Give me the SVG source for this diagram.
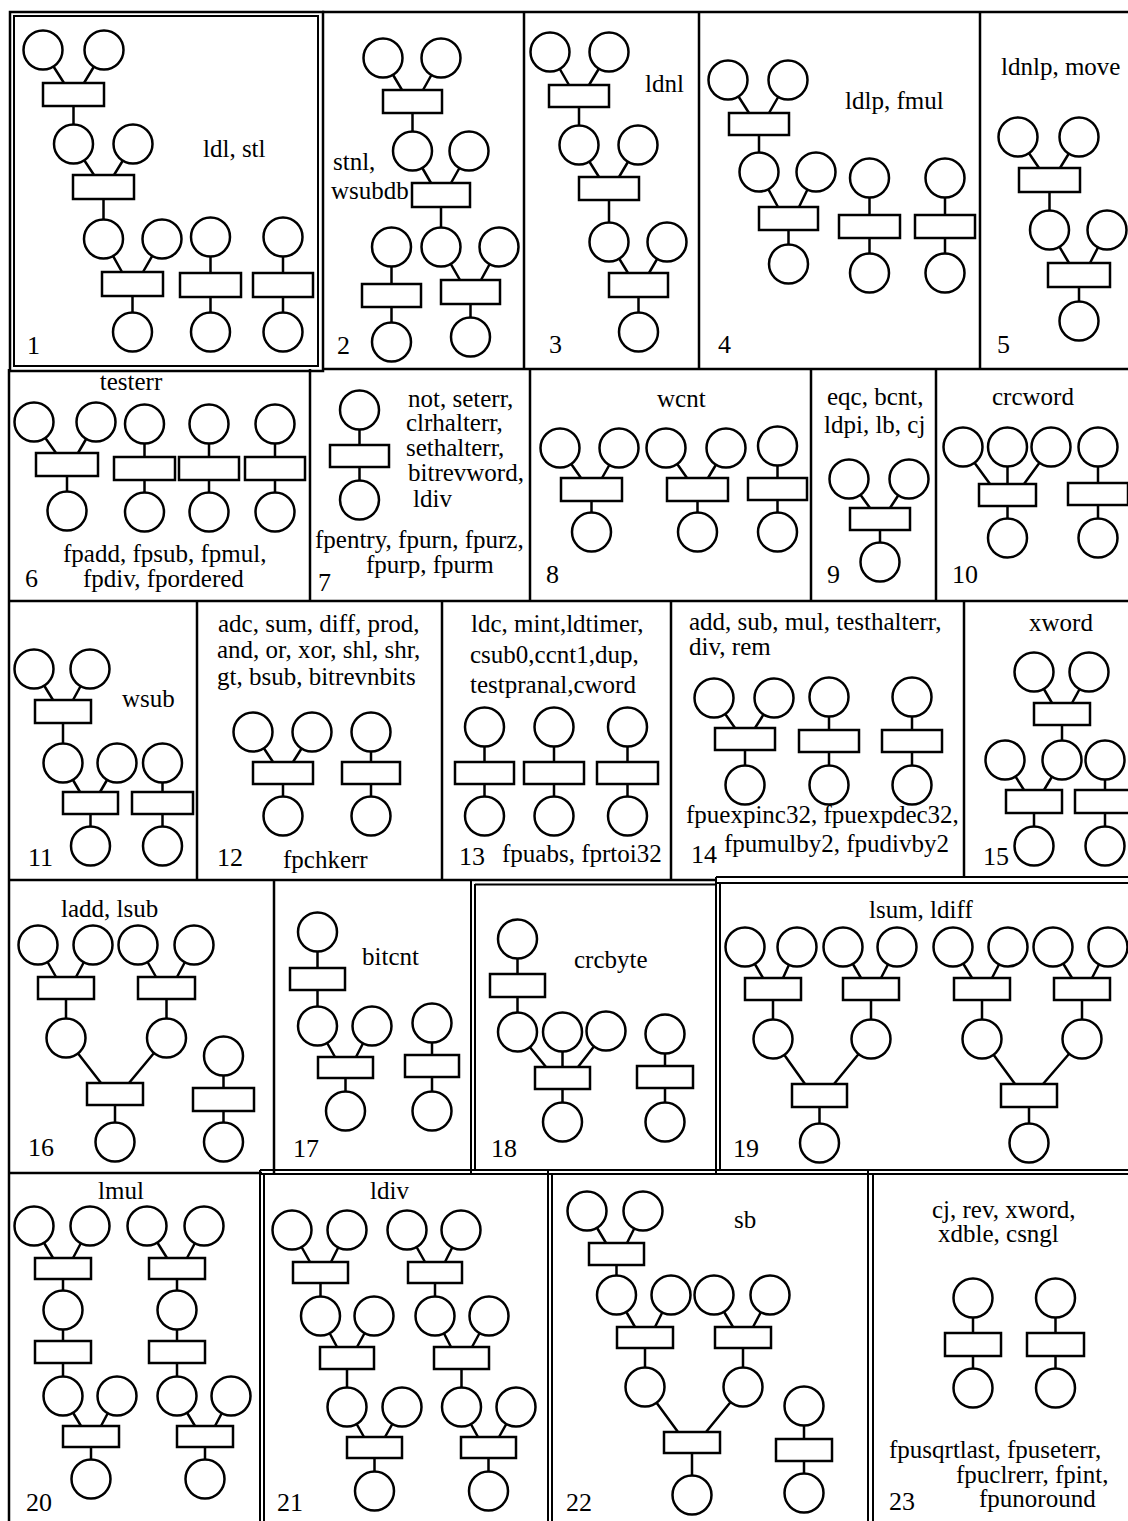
<svg xmlns="http://www.w3.org/2000/svg" width="1128" height="1521" viewBox="0 0 1128 1521">
<style>
.bg{fill:#fff}
.n{fill:#fff;stroke:#000;stroke-width:2.5}
.c{fill:none;stroke:#000;stroke-width:2.5}
.g{fill:none;stroke:#000;stroke-width:2.5}
.d{fill:none;stroke:#000;stroke-width:2}
text{font-family:"Liberation Serif","Times New Roman",serif;font-size:25px;fill:#000}
.num{font-size:26px}
.mid{text-anchor:middle}
</style>
<rect class="bg" x="0" y="0" width="1128" height="1521"/>
<g id="grid">
<rect class="g" x="10" y="12" width="313" height="359"/>
<rect class="d" x="14" y="16" width="304" height="350"/>
<path class="g" d="M322,12H1128 M322,369H1128 M9,369V1521 M9,601H1128 M524,12V369 M699,12V369 M980,12V369 M310,369V601 M530,369V601 M811,369V601 M936,369V601 M197,601V880 M442,601V880 M671,601V880 M964,601V878 M9,880H717 M274,880V1173 M9,1173H262"/>
<path class="d" d="M716,877H1128 M716,883H1128 M471,880V1174 M475,884V1170 M475,884.5H716 M716,877V1174 M720,883V1170 M260,1170H1128 M260,1174H1128 M260,1170V1521 M264,1174V1521 M548,1170V1521 M552,1174V1521 M868,1170V1521 M873,1174V1521"/>
</g>
<g id="connectors" class="c">
<path d="M43,50L64,83 M104,50L84,83 M73.5,106V144 M73.5,144L94,175 M133,144L114,175 M103.5,199V239 M103.5,239L122,272 M162,239L143,272 M132.5,296V332 M210.5,237V332 M283,237V332"/>
<path d="M383,58L402,90 M441,58L423,90 M412.5,113V151 M412.5,151L431,183 M469,151L451,183 M441,207V247 M441,247L460,280 M499,247L481,280 M470.5,304V337 M391.5,247V342"/>
<path d="M550,52L569,85 M609,52L589,85 M579,107V145 M579,145L599,177 M638,145L619,177 M609,200V242 M609,242L628,273 M667,242L649,273 M638.5,297V332"/>
<path d="M728,80L749,113 M788,80L769,113 M759,135V172 M759,172L778,207 M816,172L799,207 M788.5,230V264 M869.5,178V273 M945,178V273"/>
<path d="M1018,137L1039,168 M1079,137L1060,168 M1049.5,192V230 M1049.5,230L1069,263 M1107,230L1090,263 M1079,287V321"/>
<path d="M34,422L56,453 M96,422L78,453 M67,476V511 M144.5,424V512 M209,424V512 M275,424V512"/>
<path d="M359.5,410V500"/>
<path d="M560,448L581,478 M619,448L602,478 M591.5,501V532 M666,448L687,478 M726,448L708,478 M697.5,501V532 M777.5,446V532"/>
<path d="M849,479L870,508 M909,479L890,508 M880,530V562"/>
<path d="M963,447L990,484 M1007.5,447V538 M1051,447L1024,484 M1098,447V538"/>
<path d="M34,669L53,700 M90,669L73,700 M63,723V763 M63,763L80,792 M117,763L100,792 M90.5,814V846 M162.5,763V846"/>
<path d="M253,732L273,762 M312,732L293,762 M283,784V816 M371,732V816"/>
<path d="M484.5,727V816 M554,727V816 M627.5,727V816"/>
<path d="M714,698L735,728 M774,698L755,728 M745,750V785 M829,697V785 M912,697V785"/>
<path d="M1034,672L1052,703 M1089,672L1072,703 M1062,725V760 M1005,760L1024,790 M1062,760L1044,790 M1034,813V846 M1105,760V846"/>
<path d="M38,945L56,977 M93,945L76,977 M66,999V1038 M138,945L156,977 M194,945L177,977 M166.5,999V1038 M66,1038L101,1083 M166.5,1038L129,1083 M115,1105V1142 M223.5,1056V1142"/>
<path d="M317.5,932V1026 M317.5,1026L335,1057 M372,1026L356,1057 M345.5,1078V1111 M432,1023V1111"/>
<path d="M517.5,939V1032 M517.5,1032L546,1067 M562.5,1032V1122 M606,1031L578,1067 M665,1034V1122"/>
<path d="M745,947L763,978 M797,947L783,978 M773,1000V1039 M843,947L861,978 M897,947L881,978 M871,1000V1039 M773,1039L805,1084 M871,1039L834,1084 M819.5,1107V1143 M953,947L972,978 M1008,947L992,978 M982,1000V1039 M1053,947L1072,978 M1108,947L1092,978 M1082,1000V1039 M982,1039L1015,1084 M1082,1039L1043,1084 M1029,1107V1143"/>
<path d="M34,1226L53,1258 M90,1226L73,1258 M63,1279V1396 M147,1226L167,1258 M204,1226L187,1258 M177,1279V1396 M63,1396L81,1426 M117,1396L101,1426 M91,1447V1479 M177,1396L195,1426 M231,1396L215,1426 M205,1447V1479"/>
<path d="M292,1230L310,1262 M347,1230L331,1262 M320.5,1283V1316 M407,1230L425,1262 M461,1230L445,1262 M435,1283V1316 M320.5,1316L337,1347 M374,1316L357,1347 M347,1369V1407 M435,1316L451,1347 M489,1316L472,1347 M461.5,1369V1407 M347,1407L364,1437 M402,1407L385,1437 M374.5,1458V1491 M461.5,1407L478,1437 M516,1407L499,1437 M488.5,1458V1491"/>
<path d="M587,1211L606,1243 M643,1211L627,1243 M616.5,1265V1295 M616.5,1295L635,1327 M671,1295L655,1327 M645,1348V1387 M714,1295L733,1327 M770,1295L753,1327 M743,1348V1387 M645,1387L678,1432 M743,1387L706,1432 M692,1453V1495 M804,1406V1493"/>
<path d="M973,1298V1388 M1055.5,1298V1388"/>
</g>
<g id="panel1">
<circle id="p1a" class="n" cx="43" cy="50" r="19.5"/><circle id="p1b" class="n" cx="104" cy="50" r="19.5"/>
<rect id="p1r1" class="n" x="43" y="83" width="61" height="23"/>
<circle id="p1c" class="n" cx="73.5" cy="144" r="19.5"/><circle id="p1d" class="n" cx="133" cy="144" r="19.5"/>
<rect id="p1r2" class="n" x="73" y="175" width="61" height="24"/>
<circle id="p1e" class="n" cx="103.5" cy="239" r="19.5"/><circle id="p1f" class="n" cx="162" cy="239" r="19.5"/>
<rect id="p1r3" class="n" x="102" y="272" width="61" height="24"/>
<circle id="p1g" class="n" cx="132.5" cy="332" r="19.5"/>
<circle id="p1h" class="n" cx="210.5" cy="237" r="19.5"/><rect id="p1r4" class="n" x="180" y="273" width="61" height="24"/><circle id="p1i" class="n" cx="210.5" cy="332" r="19.5"/>
<circle id="p1j" class="n" cx="283" cy="237" r="19.5"/><rect id="p1r5" class="n" x="253" y="273" width="60" height="24"/><circle id="p1k" class="n" cx="283" cy="332" r="19.5"/>
<text x="203" y="157">ldl, stl</text><text class="num" x="27" y="354">1</text>
</g>
<g id="panel2">
<circle id="p2a" class="n" cx="383" cy="58" r="19.5"/><circle id="p2b" class="n" cx="441" cy="58" r="19.5"/>
<rect id="p2r1" class="n" x="383" y="90" width="59" height="23"/>
<circle id="p2c" class="n" cx="412.5" cy="151" r="19.5"/><circle id="p2d" class="n" cx="469" cy="151" r="19.5"/>
<rect id="p2r2" class="n" x="412" y="183" width="58" height="24"/>
<circle id="p2e" class="n" cx="441" cy="247" r="19.5"/><circle id="p2f" class="n" cx="499" cy="247" r="19.5"/>
<rect id="p2r3" class="n" x="441" y="280" width="59" height="24"/>
<circle id="p2g" class="n" cx="470.5" cy="337" r="19.5"/>
<circle id="p2h" class="n" cx="391.5" cy="247" r="19.5"/><rect id="p2r4" class="n" x="362" y="284" width="59" height="23"/><circle id="p2i" class="n" cx="391.5" cy="342" r="19.5"/>
<text x="333" y="170">stnl,</text><text x="331" y="199">wsubdb</text><text class="num" x="337" y="354">2</text>
</g>
<g id="panel3">
<circle id="p3a" class="n" cx="550" cy="52" r="19.5"/><circle id="p3b" class="n" cx="609" cy="52" r="19.5"/>
<rect id="p3r1" class="n" x="549" y="85" width="60" height="22"/>
<circle id="p3c" class="n" cx="579" cy="145" r="19.5"/><circle id="p3d" class="n" cx="638" cy="145" r="19.5"/>
<rect id="p3r2" class="n" x="579" y="177" width="60" height="23"/>
<circle id="p3e" class="n" cx="609" cy="242" r="19.5"/><circle id="p3f" class="n" cx="667" cy="242" r="19.5"/>
<rect id="p3r3" class="n" x="609" y="273" width="59" height="24"/>
<circle id="p3g" class="n" cx="638.5" cy="332" r="19.5"/>
<text x="645" y="92">ldnl</text><text class="num" x="549" y="353">3</text>
</g>
<g id="panel4">
<circle id="p4a" class="n" cx="728" cy="80" r="19.5"/><circle id="p4b" class="n" cx="788" cy="80" r="19.5"/>
<rect id="p4r1" class="n" x="729" y="113" width="60" height="22"/>
<circle id="p4c" class="n" cx="759" cy="172" r="19.5"/><circle id="p4d" class="n" cx="816" cy="172" r="19.5"/>
<rect id="p4r2" class="n" x="759" y="207" width="59" height="23"/>
<circle id="p4e" class="n" cx="788.5" cy="264" r="19.5"/>
<circle id="p4f" class="n" cx="869.5" cy="178" r="19.5"/><rect id="p4r3" class="n" x="839" y="215" width="61" height="23"/><circle id="p4g" class="n" cx="869.5" cy="273" r="19.5"/>
<circle id="p4h" class="n" cx="945" cy="178" r="19.5"/><rect id="p4r4" class="n" x="915" y="215" width="60" height="23"/><circle id="p4i" class="n" cx="945" cy="273" r="19.5"/>
<text x="845" y="109">ldlp, fmul</text><text class="num" x="718" y="353">4</text>
</g>
<g id="panel5">
<circle id="p5a" class="n" cx="1018" cy="137" r="19.5"/><circle id="p5b" class="n" cx="1079" cy="137" r="19.5"/>
<rect id="p5r1" class="n" x="1019" y="168" width="61" height="24"/>
<circle id="p5c" class="n" cx="1049.5" cy="230" r="19.5"/><circle id="p5d" class="n" cx="1107" cy="230" r="19.5"/>
<rect id="p5r2" class="n" x="1048" y="263" width="62" height="24"/>
<circle id="p5e" class="n" cx="1079" cy="321" r="19.5"/>
<text x="1001" y="75">ldnlp, move</text><text class="num" x="997" y="353">5</text>
</g>
<g id="panel6">
<circle id="p6a" class="n" cx="34" cy="422" r="19.5"/><circle id="p6b" class="n" cx="96" cy="422" r="19.5"/>
<rect id="p6r1" class="n" x="36" y="453" width="62" height="23"/><circle id="p6c" class="n" cx="67" cy="511" r="19.5"/>
<circle id="p6d" class="n" cx="144.5" cy="424" r="19.5"/><rect id="p6r2" class="n" x="114" y="457" width="61" height="23"/><circle id="p6e" class="n" cx="144.5" cy="512" r="19.5"/>
<circle id="p6f" class="n" cx="209" cy="424" r="19.5"/><rect id="p6r3" class="n" x="179" y="457" width="60" height="23"/><circle id="p6g" class="n" cx="209" cy="512" r="19.5"/>
<circle id="p6h" class="n" cx="275" cy="424" r="19.5"/><rect id="p6r4" class="n" x="245" y="457" width="60" height="23"/><circle id="p6i" class="n" cx="275" cy="512" r="19.5"/>
<text class="mid" x="131" y="390">testerr</text>
<text x="63" y="562">fpadd, fpsub, fpmul,</text><text x="83" y="587">fpdiv, fpordered</text><text class="num" x="25" y="587">6</text>
</g>
<g id="panel7">
<circle id="p7a" class="n" cx="359.5" cy="410" r="19.5"/><rect id="p7r1" class="n" x="330" y="445" width="59" height="22"/><circle id="p7b" class="n" cx="359.5" cy="500" r="19.5"/>
<text x="408" y="407">not, seterr,</text><text x="406" y="431">clrhalterr,</text><text x="406" y="456">sethalterr,</text><text x="408" y="481">bitrevword,</text><text x="413" y="507">ldiv</text>
<text x="315" y="548">fpentry, fpurn, fpurz,</text><text x="366" y="573">fpurp, fpurm</text><text class="num" x="318" y="591">7</text>
</g>
<g id="panel8">
<circle id="p8a" class="n" cx="560" cy="448" r="19.5"/><circle id="p8b" class="n" cx="619" cy="448" r="19.5"/>
<rect id="p8r1" class="n" x="561" y="478" width="61" height="23"/><circle id="p8c" class="n" cx="591.5" cy="532" r="19.5"/>
<circle id="p8d" class="n" cx="666" cy="448" r="19.5"/><circle id="p8e" class="n" cx="726" cy="448" r="19.5"/>
<rect id="p8r2" class="n" x="667" y="478" width="61" height="23"/><circle id="p8f" class="n" cx="697.5" cy="532" r="19.5"/>
<circle id="p8g" class="n" cx="777.5" cy="446" r="19.5"/><rect id="p8r3" class="n" x="748" y="478" width="59" height="22"/><circle id="p8h" class="n" cx="777.5" cy="532" r="19.5"/>
<text x="657" y="407">wcnt</text><text class="num" x="546" y="583">8</text>
</g>
<g id="panel9">
<circle id="p9a" class="n" cx="849" cy="479" r="19.5"/><circle id="p9b" class="n" cx="909" cy="479" r="19.5"/>
<rect id="p9r1" class="n" x="850" y="508" width="60" height="22"/><circle id="p9c" class="n" cx="880" cy="562" r="19.5"/>
<text x="827" y="405">eqc, bcnt,</text><text x="824" y="433">ldpi, lb, cj</text><text class="num" x="827" y="583">9</text>
</g>
<g id="panel10">
<circle id="p10a" class="n" cx="963" cy="447" r="19.5"/><circle id="p10b" class="n" cx="1007.5" cy="447" r="19.5"/><circle id="p10c" class="n" cx="1051" cy="447" r="19.5"/>
<rect id="p10r1" class="n" x="979" y="484" width="57" height="22"/><circle id="p10d" class="n" cx="1007.5" cy="538" r="19.5"/>
<circle id="p10e" class="n" cx="1098" cy="447" r="19.5"/><rect id="p10r2" class="n" x="1068" y="483" width="60" height="22"/><circle id="p10f" class="n" cx="1098" cy="538" r="19.5"/>
<text x="992" y="405">crcword</text><text class="num" x="952" y="583">10</text>
</g>
<g id="panel11">
<circle id="p11a" class="n" cx="34" cy="669" r="19.5"/><circle id="p11b" class="n" cx="90" cy="669" r="19.5"/>
<rect id="p11r1" class="n" x="35" y="700" width="56" height="23"/>
<circle id="p11c" class="n" cx="63" cy="763" r="19.5"/><circle id="p11d" class="n" cx="117" cy="763" r="19.5"/>
<rect id="p11r2" class="n" x="63" y="792" width="55" height="22"/><circle id="p11e" class="n" cx="90.5" cy="846" r="19.5"/>
<circle id="p11f" class="n" cx="162.5" cy="763" r="19.5"/><rect id="p11r3" class="n" x="132" y="792" width="61" height="22"/><circle id="p11g" class="n" cx="162.5" cy="846" r="19.5"/>
<text x="122" y="707">wsub</text><text class="num" x="28" y="866">11</text>
</g>
<g id="panel12">
<circle id="p12a" class="n" cx="253" cy="732" r="19.5"/><circle id="p12b" class="n" cx="312" cy="732" r="19.5"/>
<rect id="p12r1" class="n" x="253" y="762" width="60" height="22"/><circle id="p12c" class="n" cx="283" cy="816" r="19.5"/>
<circle id="p12d" class="n" cx="371" cy="732" r="19.5"/><rect id="p12r2" class="n" x="342" y="762" width="58" height="22"/><circle id="p12e" class="n" cx="371" cy="816" r="19.5"/>
<text x="218" y="632">adc, sum, diff, prod,</text><text x="217" y="658">and, or, xor, shl, shr,</text><text x="217" y="685">gt, bsub, bitrevnbits</text>
<text class="num" x="217" y="866">12</text><text x="283" y="868">fpchkerr</text>
</g>
<g id="panel13">
<circle id="p13a" class="n" cx="484.5" cy="727" r="19.5"/><rect id="p13r1" class="n" x="455" y="762" width="59" height="22"/><circle id="p13b" class="n" cx="484.5" cy="816" r="19.5"/>
<circle id="p13c" class="n" cx="554" cy="727" r="19.5"/><rect id="p13r2" class="n" x="524" y="762" width="60" height="22"/><circle id="p13d" class="n" cx="554" cy="816" r="19.5"/>
<circle id="p13e" class="n" cx="627.5" cy="727" r="19.5"/><rect id="p13r3" class="n" x="597" y="762" width="61" height="22"/><circle id="p13f" class="n" cx="627.5" cy="816" r="19.5"/>
<text x="471" y="632">ldc, mint,ldtimer,</text><text x="470" y="663">csub0,ccnt1,dup,</text><text x="470" y="693">testpranal,cword</text>
<text class="num" x="459" y="865">13</text><text x="502" y="862">fpuabs, fprtoi32</text>
</g>
<g id="panel14">
<circle id="p14a" class="n" cx="714" cy="698" r="19.5"/><circle id="p14b" class="n" cx="774" cy="698" r="19.5"/>
<rect id="p14r1" class="n" x="715" y="728" width="60" height="22"/><circle id="p14c" class="n" cx="745" cy="785" r="19.5"/>
<circle id="p14d" class="n" cx="829" cy="697" r="19.5"/><rect id="p14r2" class="n" x="799" y="730" width="60" height="22"/><circle id="p14e" class="n" cx="829" cy="785" r="19.5"/>
<circle id="p14f" class="n" cx="912" cy="697" r="19.5"/><rect id="p14r3" class="n" x="882" y="730" width="60" height="22"/><circle id="p14g" class="n" cx="912" cy="785" r="19.5"/>
<text x="689" y="630">add, sub, mul, testhalterr,</text><text x="689" y="655">div, rem</text>
<text x="686" y="823">fpuexpinc32, fpuexpdec32,</text><text class="num" x="691" y="863">14</text><text x="724" y="852">fpumulby2, fpudivby2</text>
</g>
<g id="panel15">
<circle id="p15a" class="n" cx="1034" cy="672" r="19.5"/><circle id="p15b" class="n" cx="1089" cy="672" r="19.5"/>
<rect id="p15r1" class="n" x="1034" y="703" width="56" height="22"/>
<circle id="p15c" class="n" cx="1005" cy="760" r="19.5"/><circle id="p15d" class="n" cx="1062" cy="760" r="19.5"/>
<rect id="p15r2" class="n" x="1006" y="790" width="56" height="23"/><circle id="p15e" class="n" cx="1034" cy="846" r="19.5"/>
<circle id="p15f" class="n" cx="1105" cy="760" r="19.5"/><rect id="p15r3" class="n" x="1075" y="790" width="60" height="23"/><circle id="p15g" class="n" cx="1105" cy="846" r="19.5"/>
<text x="1029" y="631">xword</text><text class="num" x="983" y="865">15</text>
</g>
<g id="panel16">
<circle id="p16a" class="n" cx="38" cy="945" r="19.5"/><circle id="p16b" class="n" cx="93" cy="945" r="19.5"/>
<rect id="p16r1" class="n" x="38" y="977" width="56" height="22"/><circle id="p16c" class="n" cx="66" cy="1038" r="19.5"/>
<circle id="p16d" class="n" cx="138" cy="945" r="19.5"/><circle id="p16e" class="n" cx="194" cy="945" r="19.5"/>
<rect id="p16r2" class="n" x="138" y="977" width="57" height="22"/><circle id="p16f" class="n" cx="166.5" cy="1038" r="19.5"/>
<rect id="p16r3" class="n" x="87" y="1083" width="56" height="22"/><circle id="p16g" class="n" cx="115" cy="1142" r="19.5"/>
<circle id="p16h" class="n" cx="223.5" cy="1056" r="19.5"/><rect id="p16r4" class="n" x="193" y="1088" width="61" height="23"/><circle id="p16i" class="n" cx="223.5" cy="1142" r="19.5"/>
<text x="61" y="917">ladd, lsub</text><text class="num" x="28" y="1156">16</text>
</g>
<g id="panel17">
<circle id="p17a" class="n" cx="317.5" cy="932" r="19.5"/><rect id="p17r1" class="n" x="290" y="968" width="55" height="22"/>
<circle id="p17b" class="n" cx="317.5" cy="1026" r="19.5"/><circle id="p17c" class="n" cx="372" cy="1026" r="19.5"/>
<rect id="p17r2" class="n" x="318" y="1057" width="55" height="21"/><circle id="p17d" class="n" cx="345.5" cy="1111" r="19.5"/>
<circle id="p17e" class="n" cx="432" cy="1023" r="19.5"/><rect id="p17r3" class="n" x="405" y="1055" width="54" height="22"/><circle id="p17f" class="n" cx="432" cy="1111" r="19.5"/>
<text x="362" y="965">bitcnt</text><text class="num" x="293" y="1157">17</text>
</g>
<g id="panel18">
<circle id="p18a" class="n" cx="517.5" cy="939" r="19.5"/><rect id="p18r1" class="n" x="490" y="974" width="55" height="23"/>
<circle id="p18b" class="n" cx="517.5" cy="1032" r="19.5"/><circle id="p18c" class="n" cx="562.5" cy="1032" r="19.5"/><circle id="p18d" class="n" cx="606" cy="1031" r="19.5"/>
<rect id="p18r2" class="n" x="535" y="1067" width="55" height="22"/><circle id="p18e" class="n" cx="562.5" cy="1122" r="19.5"/>
<circle id="p18f" class="n" cx="665" cy="1034" r="19.5"/><rect id="p18r3" class="n" x="637" y="1066" width="56" height="22"/><circle id="p18g" class="n" cx="665" cy="1122" r="19.5"/>
<text x="574" y="968">crcbyte</text><text class="num" x="491" y="1157">18</text>
</g>
<g id="panel19">
<circle id="p19a" class="n" cx="745" cy="947" r="19.5"/><circle id="p19b" class="n" cx="797" cy="947" r="19.5"/>
<rect id="p19r1" class="n" x="745" y="978" width="56" height="22"/><circle id="p19c" class="n" cx="773" cy="1039" r="19.5"/>
<circle id="p19d" class="n" cx="843" cy="947" r="19.5"/><circle id="p19e" class="n" cx="897" cy="947" r="19.5"/>
<rect id="p19r2" class="n" x="843" y="978" width="56" height="22"/><circle id="p19f" class="n" cx="871" cy="1039" r="19.5"/>
<rect id="p19r3" class="n" x="792" y="1084" width="55" height="23"/><circle id="p19g" class="n" cx="819.5" cy="1143" r="19.5"/>
<circle id="p19h" class="n" cx="953" cy="947" r="19.5"/><circle id="p19i" class="n" cx="1008" cy="947" r="19.5"/>
<rect id="p19r4" class="n" x="954" y="978" width="56" height="22"/><circle id="p19j" class="n" cx="982" cy="1039" r="19.5"/>
<circle id="p19k" class="n" cx="1053" cy="947" r="19.5"/><circle id="p19l" class="n" cx="1108" cy="947" r="19.5"/>
<rect id="p19r5" class="n" x="1054" y="978" width="56" height="22"/><circle id="p19m" class="n" cx="1082" cy="1039" r="19.5"/>
<rect id="p19r6" class="n" x="1001" y="1084" width="56" height="23"/><circle id="p19n" class="n" cx="1029" cy="1143" r="19.5"/>
<text x="869" y="918">lsum, ldiff</text><text class="num" x="733" y="1157">19</text>
</g>
<g id="panel20">
<circle id="p20a" class="n" cx="34" cy="1226" r="19.5"/><circle id="p20b" class="n" cx="90" cy="1226" r="19.5"/>
<rect id="p20r1" class="n" x="35" y="1258" width="56" height="21"/><circle id="p20c" class="n" cx="63" cy="1310" r="19.5"/>
<circle id="p20d" class="n" cx="147" cy="1226" r="19.5"/><circle id="p20e" class="n" cx="204" cy="1226" r="19.5"/>
<rect id="p20r2" class="n" x="149" y="1258" width="56" height="21"/><circle id="p20f" class="n" cx="177" cy="1310" r="19.5"/>
<rect id="p20r3" class="n" x="35" y="1341" width="56" height="22"/><rect id="p20r4" class="n" x="149" y="1341" width="56" height="22"/>
<circle id="p20g" class="n" cx="63" cy="1396" r="19.5"/><circle id="p20h" class="n" cx="117" cy="1396" r="19.5"/>
<circle id="p20i" class="n" cx="177" cy="1396" r="19.5"/><circle id="p20j" class="n" cx="231" cy="1396" r="19.5"/>
<rect id="p20r5" class="n" x="63" y="1426" width="56" height="21"/><rect id="p20r6" class="n" x="177" y="1426" width="56" height="21"/>
<circle id="p20k" class="n" cx="91" cy="1479" r="19.5"/><circle id="p20l" class="n" cx="205" cy="1479" r="19.5"/>
<text x="98" y="1199">lmul</text><text class="num" x="26" y="1511">20</text>
</g>
<g id="panel21">
<circle id="p21a" class="n" cx="292" cy="1230" r="19.5"/><circle id="p21b" class="n" cx="347" cy="1230" r="19.5"/>
<rect id="p21r1" class="n" x="293" y="1262" width="55" height="21"/>
<circle id="p21c" class="n" cx="407" cy="1230" r="19.5"/><circle id="p21d" class="n" cx="461" cy="1230" r="19.5"/>
<rect id="p21r2" class="n" x="408" y="1262" width="54" height="21"/>
<circle id="p21e" class="n" cx="320.5" cy="1316" r="19.5"/><circle id="p21f" class="n" cx="374" cy="1316" r="19.5"/>
<circle id="p21g" class="n" cx="435" cy="1316" r="19.5"/><circle id="p21h" class="n" cx="489" cy="1316" r="19.5"/>
<rect id="p21r3" class="n" x="320" y="1347" width="54" height="22"/><rect id="p21r4" class="n" x="434" y="1347" width="55" height="22"/>
<circle id="p21i" class="n" cx="347" cy="1407" r="19.5"/><circle id="p21j" class="n" cx="402" cy="1407" r="19.5"/>
<circle id="p21k" class="n" cx="461.5" cy="1407" r="19.5"/><circle id="p21l" class="n" cx="516" cy="1407" r="19.5"/>
<rect id="p21r5" class="n" x="347" y="1437" width="55" height="21"/><rect id="p21r6" class="n" x="461" y="1437" width="55" height="21"/>
<circle id="p21m" class="n" cx="374.5" cy="1491" r="19.5"/><circle id="p21n" class="n" cx="488.5" cy="1491" r="19.5"/>
<text x="370" y="1199">ldiv</text><text class="num" x="277" y="1511">21</text>
</g>
<g id="panel22">
<circle id="p22a" class="n" cx="587" cy="1211" r="19.5"/><circle id="p22b" class="n" cx="643" cy="1211" r="19.5"/>
<rect id="p22r1" class="n" x="589" y="1243" width="55" height="22"/>
<circle id="p22c" class="n" cx="616.5" cy="1295" r="19.5"/><circle id="p22d" class="n" cx="671" cy="1295" r="19.5"/>
<circle id="p22e" class="n" cx="714" cy="1295" r="19.5"/><circle id="p22f" class="n" cx="770" cy="1295" r="19.5"/>
<rect id="p22r2" class="n" x="617" y="1327" width="56" height="21"/><rect id="p22r3" class="n" x="715" y="1327" width="56" height="21"/>
<circle id="p22g" class="n" cx="645" cy="1387" r="19.5"/><circle id="p22h" class="n" cx="743" cy="1387" r="19.5"/>
<rect id="p22r4" class="n" x="664" y="1432" width="56" height="21"/><circle id="p22i" class="n" cx="692" cy="1495" r="19.5"/>
<circle id="p22j" class="n" cx="804" cy="1406" r="19.5"/><rect id="p22r5" class="n" x="776" y="1439" width="56" height="22"/><circle id="p22k" class="n" cx="804" cy="1493" r="19.5"/>
<text x="734" y="1228">sb</text><text class="num" x="566" y="1511">22</text>
</g>
<g id="panel23">
<circle id="p23a" class="n" cx="973" cy="1298" r="19.5"/><rect id="p23r1" class="n" x="945" y="1333" width="56" height="23"/><circle id="p23b" class="n" cx="973" cy="1388" r="19.5"/>
<circle id="p23c" class="n" cx="1055.5" cy="1298" r="19.5"/><rect id="p23r2" class="n" x="1027" y="1333" width="57" height="23"/><circle id="p23d" class="n" cx="1055.5" cy="1388" r="19.5"/>
<text x="932" y="1218">cj, rev, xword,</text><text x="938" y="1242">xdble, csngl</text>
<text x="889" y="1458">fpusqrtlast, fpuseterr,</text><text x="956" y="1483">fpuclrerr, fpint,</text><text x="979" y="1507">fpunoround</text>
<text class="num" x="889" y="1510">23</text>
</g>
</svg>
